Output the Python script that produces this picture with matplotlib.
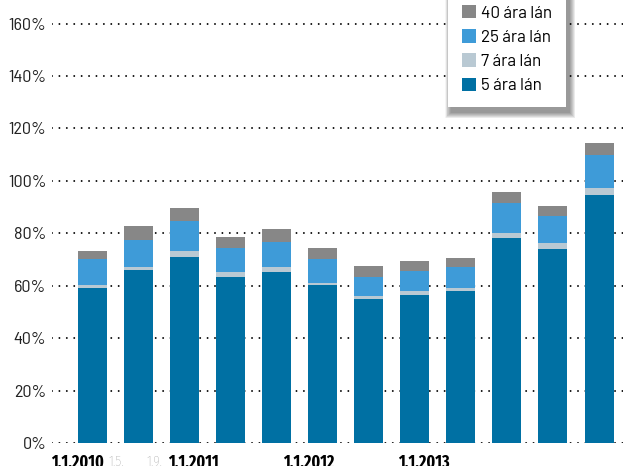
import numpy as np
import matplotlib
matplotlib.use("Agg")
import matplotlib.pyplot as plt
from matplotlib.patches import FancyBboxPatch

plt.rcParams['font.family'] = ['Barlow Semi Condensed', 'Roboto Condensed', 'DejaVu Sans']

# data (share of loans, %)
labels = ["1.1.2010", "1.5.", "1.9.", "1.1.2011", "", "", "1.1.2012", "", "", "1.1.2013", "", ""]
lan5 = [59.2, 66.0, 71.0, 63.4, 65.3, 60.3, 55.0, 56.5, 58.0, 78.2, 74.0, 94.7]
lan7 = [1.1, 1.2, 2.3, 1.9, 1.9, 0.8, 1.1, 1.5, 1.2, 2.0, 2.3, 2.6]
lan25 = [9.9, 10.4, 11.4, 9.2, 9.6, 9.1, 7.3, 7.6, 8.0, 11.4, 10.3, 12.4]
lan40 = [3.1, 5.2, 5.0, 4.1, 4.9, 4.2, 4.2, 3.9, 3.4, 4.2, 3.9, 4.8]
yticks = [0, 20, 40, 60, 80, 100, 120, 140, 160]

colors = {"5": "#0070a3", "7": "#b9c9d3", "25": "#3e9bd8", "40": "#878787"}

fig = plt.figure(figsize=(6.23, 4.66), dpi=100)
ax = fig.add_axes([52 / 623, 23 / 466, 571 / 623, 443 / 466])

x = np.arange(len(lan5))
w = 0.63
b = np.zeros(len(x))
bars = {}
for key, vals in [("5", lan5), ("7", lan7), ("25", lan25), ("40", lan40)]:
    bars[key] = ax.bar(x, vals, w, bottom=b, color=colors[key], zorder=3,
                       label=f"{key} ára lán")
    b = b + np.array(vals)

ax.set_xlim(-0.87, 11.52)
ax.set_ylim(0, 169)

for s in ax.spines.values():
    s.set_visible(False)

ax.set_yticks(yticks)
ax.set_yticklabels([f"{v}%" for v in yticks], fontsize=13, color="#222222")
ax.tick_params(axis="y", length=0, pad=4)
for v in yticks:
    ax.axhline(v, color="black", lw=1.4, ls=(0, (0.01, 3.8)),
               dash_capstyle="round", zorder=1)

# x labels sit on their own spacing in the original
ax.set_xticks([])
for i, lab in enumerate(labels):
    if not lab:
        continue
    pos = -0.31 + 0.835 * i
    if lab.startswith("1.1."):
        ax.text(pos, -4.3, lab, ha="center", va="top", fontsize=12.5,
                fontweight="bold", color="black",
                family=['Fira Sans Extra Condensed', 'Barlow Semi Condensed'])
    else:
        ax.text(pos, -4.3, lab, ha="center", va="top", fontsize=11,
                fontweight="light", color="#9a9a9a",
                family=['Fira Sans Extra Condensed', 'Barlow Semi Condensed'])

handles = [bars["40"], bars["25"], bars["7"], bars["5"]]
leg = ax.legend(handles, [h.get_label() for h in handles],
                loc="lower left", bbox_to_anchor=(448 / 623, 359 / 466),
                bbox_transform=fig.transFigure,
                frameon=True, fancybox=False,
                prop={"family": ["Barlow", "DejaVu Sans"], "size": 12.3},
                handlelength=0.85, handleheight=0.85, handletextpad=0.3,
                labelspacing=0.5, borderpad=0.8, borderaxespad=0)
leg.get_frame().set_edgecolor("white")
leg.get_frame().set_linewidth(0)
leg.get_frame().set_alpha(1)
leg.set_zorder(6)

# soft drop shadow behind the legend
fig.canvas.draw()
bb = leg.get_window_extent().transformed(ax.transAxes.inverted())
px = 1 / 571, 1 / 443
for k in range(12):
    grow = 12 - k
    sh = FancyBboxPatch((bb.x0 + (3 - grow / 2) * px[0], bb.y0 - (5 + grow / 2) * px[1]),
                        bb.width + grow * px[0], bb.height + grow * px[1],
                        boxstyle="square,pad=0",
                        transform=ax.transAxes, clip_on=False,
                        facecolor="black", edgecolor="none",
                        alpha=0.04, zorder=5)
    ax.add_patch(sh)

fig.savefig("out.png", dpi=100)
